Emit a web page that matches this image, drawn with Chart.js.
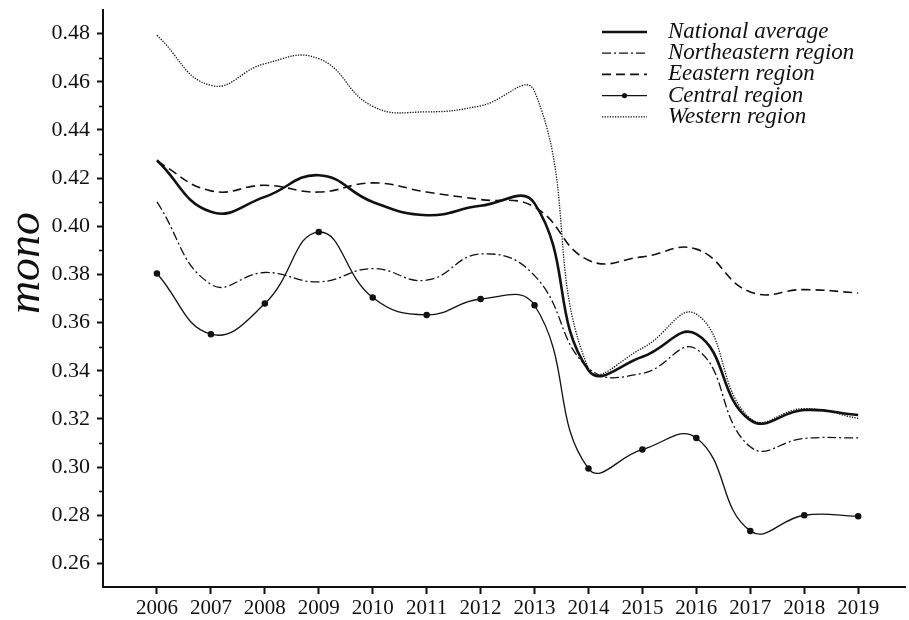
<!DOCTYPE html>
<html>
<head>
<meta charset="utf-8">
<script src="https://cdn.jsdelivr.net/npm/chart.js@4.4.1/dist/chart.umd.min.js"></script>
<style>
  html, body { margin: 0; padding: 0; background: #fff; }
  #chart { display: block; }
</style>
</head>
<body>
<canvas id="chart" width="909" height="620"></canvas>
<script>
// ── Data ────────────────────────────────────────────────────
const years        = [2006, 2007, 2008, 2009, 2010, 2011, 2012, 2013, 2014, 2015, 2016, 2017, 2018, 2019];
const national     = [0.4274, 0.4060, 0.4122, 0.4212, 0.4101, 0.4046, 0.4085, 0.4095, 0.3402, 0.3458, 0.3552, 0.3195, 0.3237, 0.3216];
const northeastern = [0.4101, 0.3759, 0.3808, 0.3769, 0.3824, 0.3776, 0.3885, 0.3795, 0.3411, 0.3389, 0.3490, 0.3084, 0.3119, 0.3121];
const eastern      = [0.4270, 0.4147, 0.4170, 0.4142, 0.4180, 0.4142, 0.4111, 0.4080, 0.3859, 0.3873, 0.3905, 0.3727, 0.3737, 0.3723];
const central      = [0.3804, 0.3552, 0.3679, 0.3976, 0.3704, 0.3632, 0.3698, 0.3672, 0.2994, 0.3073, 0.3121, 0.2735, 0.2800, 0.2796];
const western      = [0.4793, 0.4585, 0.4675, 0.4696, 0.4498, 0.4475, 0.4500, 0.4560, 0.3410, 0.3494, 0.3635, 0.3202, 0.3243, 0.3202];

const seriesLabels = ['National average', 'Northeastern region', 'Eeastern region', 'Central region', 'Western region'];
const yTickValues  = [0.26, 0.28, 0.30, 0.32, 0.34, 0.36, 0.38, 0.40, 0.42, 0.44, 0.46, 0.48];
const yAxisTitle   = 'mono';

// ── Helpers ─────────────────────────────────────────────────
const INK   = '#111';
const SERIF = '"Liberation Serif", "DejaVu Serif", serif';

const toPoints = (vals) => vals.map((v, i) => ({ x: years[i], y: v }));

const lineStyle = {
  tension: 0.45,
  borderColor: INK,
  backgroundColor: INK,
  fill: false,
  pointRadius: 0,
  pointHoverRadius: 0
};

// ── Plugins: minor y ticks, axis title, inset legend ────────
const decorPlugin = {
  id: 'decor',
  afterDraw(chart) {
    const ctx = chart.ctx;
    const ys  = chart.scales.y;
    const xAxisLeft = chart.chartArea.left;

    // minor ticks on y axis (between labelled ones)
    ctx.save();
    ctx.strokeStyle = INK;
    ctx.lineWidth = 1.6;
    for (let k = 0; k < yTickValues.length - 1; k++) {
      const v = (yTickValues[k] + yTickValues[k + 1]) / 2;
      const py = Math.round(ys.getPixelForValue(v)) + 0.5;
      ctx.beginPath();
      ctx.moveTo(xAxisLeft - 4, py);
      ctx.lineTo(xAxisLeft, py);
      ctx.stroke();
    }
    ctx.restore();

    // rotated axis title
    ctx.save();
    ctx.translate(27, 263);
    ctx.rotate(-Math.PI / 2);
    ctx.font = 'italic 46px ' + SERIF;
    ctx.fillStyle = INK;
    ctx.textAlign = 'center';
    ctx.textBaseline = 'middle';
    ctx.fillText(yAxisTitle, 0, 0);
    ctx.restore();

    // legend in the top-right corner
    const x0 = 602, x1 = 647, tx = 668, top = 32, step = 21.2;
    ctx.save();
    ctx.font = 'italic 23px ' + SERIF;
    ctx.textBaseline = 'middle';
    ctx.fillStyle = INK;
    chart.data.datasets.forEach((ds, i) => {
      const y = top + i * step;
      ctx.save();
      ctx.strokeStyle = INK;
      ctx.lineWidth = ds.borderWidth;
      ctx.setLineDash(ds.borderDash || []);
      ctx.beginPath();
      ctx.moveTo(x0, y);
      ctx.lineTo(x1, y);
      ctx.stroke();
      if (ds.pointRadius > 0) {
        ctx.setLineDash([]);
        ctx.beginPath();
        ctx.arc((x0 + x1) / 2, y, ds.pointRadius, 0, Math.PI * 2);
        ctx.fill();
      }
      ctx.restore();
      ctx.fillText(ds.label, tx, y);
    });
    ctx.restore();
  }
};

// ── Chart ───────────────────────────────────────────────────
new Chart(document.getElementById('chart'), {
  type: 'line',
  data: {
    datasets: [
      { ...lineStyle, label: seriesLabels[0], data: toPoints(national),     borderWidth: 2.6 },
      { ...lineStyle, label: seriesLabels[1], data: toPoints(northeastern), borderWidth: 1.3, borderDash: [9, 3, 2, 3] },
      { ...lineStyle, label: seriesLabels[2], data: toPoints(eastern),      borderWidth: 1.6, borderDash: [9, 5] },
      { ...lineStyle, label: seriesLabels[3], data: toPoints(central),      borderWidth: 1.3, pointRadius: 2.6 },
      { ...lineStyle, label: seriesLabels[4], data: toPoints(western),      borderWidth: 1.3, borderDash: [1.3, 1.3] }
    ]
  },
  options: {
    responsive: false,
    animation: false,
    devicePixelRatio: 1,
    layout: { padding: { top: 10, right: 0, left: 0, bottom: 0 } },
    plugins: {
      legend:  { display: false },
      tooltip: { enabled: false }
    },
    scales: {
      x: {
        type: 'linear',
        min: 2005,
        max: 2019.87,
        afterFit: (s) => { s.height = 33; s.paddingLeft = 0; s.paddingRight = 0; },
        border: { display: true, color: INK, width: 2 },
        grid: {
          drawOnChartArea: false,
          drawTicks: true,
          tickLength: 7,
          tickWidth: 2,
          tickColor: (c) => (c.tick && c.tick.value >= 2006 ? INK : 'rgba(0,0,0,0)')
        },
        ticks: {
          stepSize: 1,
          includeBounds: false,
          autoSkip: false,
          maxRotation: 0,
          padding: 2,
          color: INK,
          font: { family: SERIF, size: 21 },
          callback: (v) => (v >= 2006 && Number.isInteger(v) ? String(v) : '')
        }
      },
      y: {
        type: 'linear',
        min: 0.2502,
        max: 0.4898,
        afterFit: (s) => { s.width = 103; s.paddingTop = 0; s.paddingBottom = 0; },
        afterBuildTicks: (s) => { s.ticks = yTickValues.map(v => ({ value: v })); },
        border: { display: true, color: INK, width: 2 },
        grid: {
          drawOnChartArea: false,
          drawTicks: true,
          tickLength: 6,
          tickWidth: 2,
          tickColor: INK
        },
        ticks: {
          padding: 7,
          color: INK,
          font: { family: SERIF, size: 22 },
          callback: (v) => v.toFixed(2)
        }
      }
    }
  },
  plugins: [decorPlugin]
});
</script>
</body>
</html>
